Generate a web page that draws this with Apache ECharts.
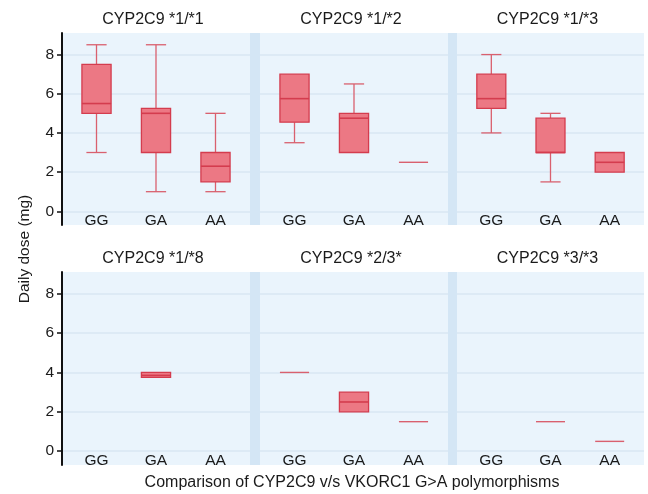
<!DOCTYPE html>
<html>
<head>
<meta charset="utf-8">
<script src="https://cdn.jsdelivr.net/npm/echarts@6/dist/echarts.min.js"></script>
<style>html,body{margin:0;padding:0;background:#fff}#c{width:648px;height:494px}</style>
</head>
<body>
<div id="c"></div>
<script>
// ---- Data ----
var genotypes = ['GG', 'GA', 'AA'];
var panelTitles = ['CYP2C9 *1/*1', 'CYP2C9 *1/*2', 'CYP2C9 *1/*3', 'CYP2C9 *1/*8', 'CYP2C9 *2/3*', 'CYP2C9 *3/*3'];
var yTicks = [0, 2, 4, 6, 8];
// each entry: [min, Q1, median, Q3, max] per genotype (null = no data)
var cyp11 = [[3, 5, 5.5, 7.5, 8.5], [1, 3, 5, 5.25, 8.5], [1, 1.5, 2.3, 3, 5]];
var cyp12 = [[3.5, 4.55, 5.75, 7, 7], [3, 3, 4.75, 5, 6.5], [2.5, 2.5, 2.5, 2.5, 2.5]];
var cyp13 = [[4, 5.25, 5.75, 7, 8], [1.5, 3, 3, 4.75, 5], [2, 2, 2.5, 3, 3]];
var cyp18 = [null, [3.75, 3.75, 3.85, 4, 4], null];
var cyp23 = [[4, 4, 4, 4, 4], [2, 2, 2.5, 3, 3], [1.5, 1.5, 1.5, 1.5, 1.5]];
var cyp33 = [null, [1.5, 1.5, 1.5, 1.5, 1.5], [0.5, 0.5, 0.5, 0.5, 0.5]];
var panelData = [cyp11, cyp12, cyp13, cyp18, cyp23, cyp33];

// ---- Layout / style ----
var colX = [[62, 188], [260, 188], [457, 187]];
var rowY = [[33, 192], [272, 193]];
var panelBg = '#eaf4fc';
var sepBg = '#d4e6f5';
var gridLine = '#d9e7f3';
var boxFill = '#ec7884';
var boxStroke = '#d43c4e';
var whiskerColor = '#d9606e';
var textColor = '#1a1a1a';
var font = 'Liberation Sans, Arial, Helvetica, sans-serif';

var grids = [], xAxes = [], yAxes = [], series = [], graphics = [];

rowY.forEach(function (r) {
  graphics.push({type: 'rect', z: -100, shape: {x: 62, y: r[0], width: 582, height: r[1]}, style: {fill: sepBg}});
});

panelData.forEach(function (pd, i) {
  var col = i % 3, row = Math.floor(i / 3);
  grids.push({left: colX[col][0], top: rowY[row][0], width: colX[col][1], height: rowY[row][1],
    show: true, backgroundColor: panelBg, borderWidth: 0});
  xAxes.push({
    gridIndex: i, type: 'value', min: -0.58, max: 2.58,
    axisLine: {show: false, onZero: false}, axisTick: {show: false}, splitLine: {show: false},
    axisLabel: {inside: true, margin: -4, customValues: [0, 1, 2], verticalAlign: 'bottom',
      formatter: function (v) { return genotypes[Math.round(v)]; },
      color: textColor, fontSize: 15.5, fontFamily: font}
  });
  var first = col === 0;
  yAxes.push({
    gridIndex: i, type: 'value', min: -0.7, max: 9.1,
    axisLine: {show: first, onZero: false, lineStyle: {color: '#111', width: 2}},
    axisTick: {show: first, customValues: yTicks, length: 5, lineStyle: {color: '#111', width: 1.5}},
    axisLabel: {show: first, customValues: yTicks, margin: 8, color: textColor, fontSize: 15.5, fontFamily: font},
    splitLine: {show: true, lineStyle: {color: gridLine, width: 1.5}}
  });
  var items = [];
  pd.forEach(function (b, k) { if (b) items.push([k].concat(b)); });
  series.push({
    type: 'custom', xAxisIndex: i, yAxisIndex: i, data: items,
    renderItem: function (params, api) {
      var x = api.value(0);
      var vals = [1, 2, 3, 4, 5].map(function (d) { return api.value(d); });
      var bw = api.size([1, 0])[0] * 0.49;
      var cw = api.size([1, 0])[0] * 0.34;
      var pMin = api.coord([x, vals[0]]), pQ1 = api.coord([x, vals[1]]),
          pMed = api.coord([x, vals[2]]), pQ3 = api.coord([x, vals[3]]), pMax = api.coord([x, vals[4]]);
      var cx = pMin[0];
      var children = [];
      var wStyle = {stroke: whiskerColor, lineWidth: 1.3, fill: null};
      if (vals[4] > vals[3]) {
        children.push({type: 'line', shape: {x1: cx, y1: pQ3[1], x2: cx, y2: pMax[1]}, style: wStyle});
        children.push({type: 'line', shape: {x1: cx - cw / 2, y1: pMax[1], x2: cx + cw / 2, y2: pMax[1]}, style: wStyle});
      }
      if (vals[0] < vals[1]) {
        children.push({type: 'line', shape: {x1: cx, y1: pQ1[1], x2: cx, y2: pMin[1]}, style: wStyle});
        children.push({type: 'line', shape: {x1: cx - cw / 2, y1: pMin[1], x2: cx + cw / 2, y2: pMin[1]}, style: wStyle});
      }
      if (vals[3] > vals[1]) {
        children.push({type: 'rect', shape: {x: cx - bw / 2, y: pQ3[1], width: bw, height: pQ1[1] - pQ3[1]},
          style: {fill: boxFill, stroke: boxStroke, lineWidth: 1.3}});
        children.push({type: 'line', shape: {x1: cx - bw / 2, y1: pMed[1], x2: cx + bw / 2, y2: pMed[1]},
          style: {stroke: boxStroke, lineWidth: 1.6}});
      } else {
        children.push({type: 'line', shape: {x1: cx - bw / 2, y1: pMed[1], x2: cx + bw / 2, y2: pMed[1]},
          style: {stroke: whiskerColor, lineWidth: 1.4}});
      }
      return {type: 'group', children: children};
    }
  });
  graphics.push({type: 'text', x: colX[col][0] + colX[col][1] / 2 - 3, y: rowY[row][0] - 13,
    style: {text: panelTitles[i], align: 'center', verticalAlign: 'middle', fill: textColor, fontSize: 16, fontFamily: font}});
});

graphics.push({type: 'text', x: 25, y: 249, rotation: Math.PI / 2,
  style: {text: 'Daily dose (mg)', align: 'center', verticalAlign: 'middle', fill: textColor, fontSize: 15.5, fontFamily: font}});
graphics.push({type: 'text', x: 352, y: 483,
  style: {text: 'Comparison of CYP2C9 v/s VKORC1 G>A polymorphisms', align: 'center', verticalAlign: 'middle', fill: textColor, fontSize: 16, fontFamily: font}});

var chart = echarts.init(document.getElementById('c'), null, {renderer: 'canvas'});
chart.setOption({
  animation: false,
  grid: grids, xAxis: xAxes, yAxis: yAxes, series: series,
  graphic: {elements: graphics}
});
</script>
</body>
</html>
